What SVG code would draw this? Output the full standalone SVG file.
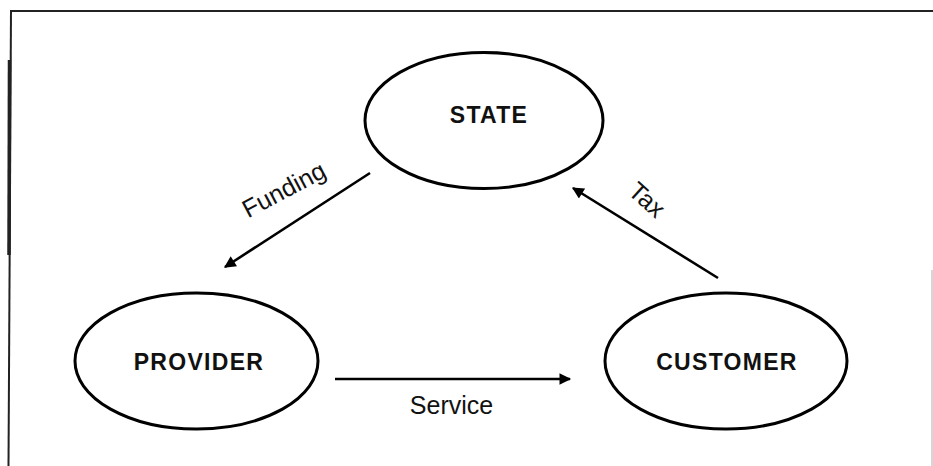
<svg xmlns="http://www.w3.org/2000/svg" width="933" height="466" viewBox="0 0 933 466">
  <style>
    .node ellipse { fill: none; stroke: #000; stroke-width: 3; }
    .node text { font-family: "Liberation Sans", Arial, sans-serif; font-weight: bold; font-size: 23px; text-anchor: middle; letter-spacing: 1.3px; fill: #111; }
    .edge line { stroke: #000; stroke-width: 2.6; }
    .label { font-family: "Liberation Sans", Arial, sans-serif; font-size: 25px; text-anchor: middle; fill: #111; }
    .frame { stroke: #222; fill: none; }
  </style>
  <defs>
    <marker id="head" viewBox="0 0 10 10" refX="9" refY="5" markerWidth="5" markerHeight="4.5" orient="auto" markerUnits="strokeWidth">
      <path d="M0,0 L10,5 L0,10 Z" fill="#000"/>
    </marker>
  </defs>

  <rect width="933" height="466" fill="#fff"/>

  <!-- page frame -->
  <g id="frame">
    <line class="frame" x1="10" y1="11" x2="933" y2="11" stroke-width="2.2"/>
    <line class="frame" x1="11" y1="10" x2="8.5" y2="466" stroke-width="2"/>
    <line class="frame" x1="9.5" y1="60" x2="9" y2="255" stroke-width="3.5"/>
    <line x1="932" y1="270" x2="932" y2="466" stroke="#bbb" stroke-width="1.2"/>
  </g>

  <g id="state" class="node">
    <ellipse cx="484" cy="120.5" rx="119" ry="68"/>
    <text x="489" y="123">STATE</text>
  </g>

  <g id="provider" class="node">
    <ellipse cx="196.5" cy="361" rx="121.5" ry="68"/>
    <text x="199" y="370">PROVIDER</text>
  </g>

  <g id="customer" class="node">
    <ellipse cx="726" cy="361" rx="121" ry="68"/>
    <text x="727" y="370">CUSTOMER</text>
  </g>

  <g id="connectors" class="edge">
    <line x1="370" y1="173" x2="225" y2="267" marker-end="url(#head)"/>
    <line x1="718" y1="278" x2="573" y2="188" marker-end="url(#head)"/>
    <line x1="335" y1="379" x2="570" y2="379" marker-end="url(#head)"/>
  </g>

  <g id="labels">
    <text class="label" transform="translate(285,192) rotate(-28)" y="6">Funding</text>
    <text class="label" transform="translate(646,201) rotate(42)" y="7" font-size="22">Tax</text>
    <text class="label" x="451.5" y="414">Service</text>
  </g>
</svg>
